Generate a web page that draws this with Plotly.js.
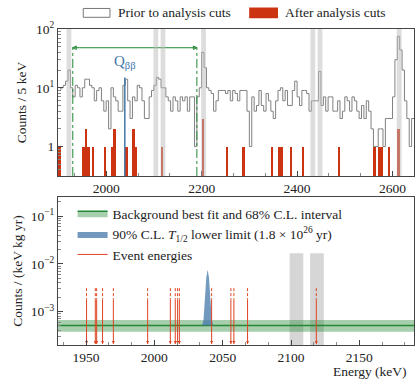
<!DOCTYPE html>
<html>
<head>
<meta charset="utf-8">
<script src="https://cdn.plot.ly/plotly-3.0.1.min.js"></script>
<style>html,body{margin:0;padding:0;background:#fff}</style>
</head>
<body>
<div id="chart" style="width:416px;height:385px"></div>
<script>
// top panel: 5 keV histogram from 1900 keV
var binStart = 1900, binWidth = 5;
var priorCounts = [
  9,10,11,13,20,10,7,11,10,7,
  10,14,14,11,10,6,9,10,6,4,
  6,2,10,7,6,4,4,11,14,6,
  3,7,6,11,10,6,3,3,7,9,
  11,15,14,10,10,7,6,4,7,6,
  4,7,6,7,4,7,7,1,7,10,
  40,22,10,9,8,4,6,9,9,9,
  8,9,6,9,8,6,9,9,9,4,
  1,7,4,5,9,5,4,8,6,4,
  3,6,9,10,6,9,5,5,9,13,
  7,5,9,9,8,4,6,6,6,19,
  5,7,4,7,7,4,4,6,3,4,
  7,6,4,7,6,4,3,5,3,6,
  4,2,1,1,2,2,1,3,3,3,
  7,30,75,44,20,6,3,1,3
];
var cutBins   = [1900,1950,1955,1960,1970,1995,2010,2015,2040,2055,2060,2115,2200,
                 2250,2285,2345,2360,2365,2385,2410,2485,2560,2570,2575,2590,2610];
var cutCounts = [1,1,2,1,1,1,1,2,1,2,1,1,3,
                 1,1,1,1,1,1,1,1,1,1,1,1,2];
var vetoBands = [[1917,1927],[2099,2109],[2114,2124],[2199,2209],[2428,2438],[2443,2453],[2609,2619]];
var qbb = 2039, qbbTop = 15;
var roi = [1930, 2190], roiArrowY = 48;
var topLegend = ['Prior to analysis cuts', 'After analysis cuts'];

// bottom panel
var fitE = [1929.5, 2190];
var bkgFit = 5.1e-4, bkgLow = 3.8e-4, bkgHigh = 6.7e-4;
var limitE = [2034,2035,2036,2037,2038,2039,2040,2041,2042,2043,2044];
var limitY = [5.1e-4,5.2e-4,6.8e-4,1.85e-3,5.1e-3,7.5e-3,5.1e-3,1.85e-3,6.8e-4,5.2e-4,5.1e-4];
var events = [1950.4,1956.8,1957.8,1962.1,1970.0,1995.1,2011.7,2015.3,2017.0,2018.3,
              2041.9,2056.0,2058.2,2068.2,2118.5];
var arrowTop = 3.1e-3, arrowMid = 1.8e-3, arrowTip = 2.1e-4;
var zoomBands = [[2099,2109],[2114,2124]];

var red = '#cc3311', green = '#228833', blue = '#4477aa', arrowRed = '#dd4422';

var edges = [], stepY = [];
for (var i = 0; i <= priorCounts.length; i++) {
  edges.push(binStart + i * binWidth);
  stepY.push(priorCounts[Math.min(i, priorCounts.length - 1)]);
}
var cutX = cutBins.map(function(b) { return b + binWidth / 2; });

var dashX = [], dashY = [], shaftX = [], shaftY = [];
events.forEach(function(e) {
  dashX.push(e, e, null); dashY.push(arrowTop, arrowMid, null);
  shaftX.push(e, e, null); shaftY.push(arrowMid, arrowTip, null);
});

var traces = [
  { x: cutX, y: cutCounts, type: 'bar', width: binWidth, showlegend: false,
    marker: {color: red, line: {width: 0}} },
  { x: edges, y: stepY, type: 'scatter', mode: 'lines', showlegend: false,
    line: {shape: 'hv', color: '#808080', width: 1} },
  { x: [qbb, qbb], y: [0.3, qbbTop], type: 'scatter', mode: 'lines', showlegend: false,
    line: {color: blue, width: 1.5} },
  { x: roi, y: [roiArrowY, roiArrowY], type: 'scatter', mode: 'lines+markers', showlegend: false,
    line: {color: green, width: 1},
    marker: {symbol: ['arrow-left-open', 'arrow-right-open'], size: 3.5, color: green,
             line: {color: green, width: 1}} },

  { x: fitE, y: [bkgLow, bkgLow], xaxis: 'x2', yaxis: 'y2', mode: 'lines',
    line: {width: 0}, showlegend: false, legend: 'legend2', hoverinfo: 'skip' },
  { x: fitE, y: [bkgFit, bkgFit], xaxis: 'x2', yaxis: 'y2', mode: 'lines',
    fill: 'tonexty', fillcolor: 'rgba(34,136,51,0.4)', line: {color: green, width: 1.5},
    name: 'Background best fit and 68% C.L. interval', legend: 'legend2' },
  { x: fitE, y: [bkgHigh, bkgHigh], xaxis: 'x2', yaxis: 'y2', mode: 'lines',
    fill: 'tonexty', fillcolor: 'rgba(34,136,51,0.4)', line: {width: 0},
    showlegend: false, legend: 'legend2' },
  { x: limitE, y: limitY, xaxis: 'x2', yaxis: 'y2', mode: 'lines', fill: 'toself',
    fillcolor: 'rgba(68,119,170,0.75)', line: {width: 0},
    name: '90% C.L. <i>T</i><sub>1/2</sub> lower limit (1.8 × 10<sup>26</sup> yr)', legend: 'legend2' },
  { x: dashX, y: dashY, xaxis: 'x2', yaxis: 'y2', mode: 'lines', showlegend: false,
    line: {color: arrowRed, width: 1, dash: '3px,2px'}, legend: 'legend2' },
  { x: shaftX, y: shaftY, xaxis: 'x2', yaxis: 'y2', mode: 'lines', name: 'Event energies',
    line: {color: arrowRed, width: 1}, legend: 'legend2' },
  { x: events, y: events.map(function() { return arrowTip; }), xaxis: 'x2', yaxis: 'y2',
    mode: 'markers', showlegend: false, legend: 'legend2',
    marker: {symbol: 'arrow-down', size: 3, color: arrowRed} }
];

var shapes = [];
vetoBands.forEach(function(b) {
  shapes.push({type: 'rect', xref: 'x', yref: 'y domain', x0: b[0], x1: b[1], y0: 0, y1: 1,
    fillcolor: 'rgba(187,187,187,0.5)', line: {width: 0}, layer: 'above'});
});
zoomBands.forEach(function(b) {
  shapes.push({type: 'rect', xref: 'x2', yref: 'y2 domain', x0: b[0], x1: b[1], y0: 0, y1: 0.62,
    fillcolor: 'rgba(187,187,187,0.6)', line: {width: 0}, layer: 'below'});
});
roi.forEach(function(r) {
  shapes.push({type: 'line', xref: 'x', yref: 'y domain', x0: r, x1: r, y0: 0, y1: 0.875,
    line: {color: green, width: 1, dash: 'dashdot'}});
});
// top legend swatches
shapes.push({type: 'rect', xref: 'paper', yref: 'paper', x0: 0.071, x1: 0.146, y0: 1.037, y1: 1.065,
  fillcolor: 'white', line: {color: '#777', width: 1}});
shapes.push({type: 'rect', xref: 'paper', yref: 'paper', x0: 0.537, x1: 0.618, y0: 1.034, y1: 1.068,
  fillcolor: red, line: {width: 0}});

var annotations = [
  { xref: 'x', yref: 'y domain', x: qbb, y: 0.776, text: 'Q<sub>ββ</sub>', showarrow: false,
    font: {color: blue, size: 15}, yanchor: 'middle' },
  { xref: 'paper', yref: 'paper', x: 0.985, y: -0.085, text: 'Energy (keV)', showarrow: false,
    xanchor: 'right', yanchor: 'middle', font: {size: 13.5} },
  { xref: 'paper', yref: 'paper', x: 0.163, y: 1.051, text: topLegend[0], showarrow: false,
    xanchor: 'left', yanchor: 'middle', font: {size: 13.5} },
  { xref: 'paper', yref: 'paper', x: 0.631, y: 1.051, text: topLegend[1], showarrow: false,
    xanchor: 'left', yanchor: 'middle', font: {size: 13.5} }
];

var axisBase = { showline: true, linecolor: '#444', linewidth: 1, mirror: true, showgrid: false,
  zeroline: false, ticks: 'inside', ticklen: 5, tickcolor: '#444', tickfont: {size: 13.5} };

function ax(extra) { return Object.assign({}, axisBase, extra); }

var layout = {
  width: 416, height: 385,
  margin: {l: 58, r: 2, t: 29, b: 40},
  paper_bgcolor: 'white', plot_bgcolor: 'white',
  font: {family: '"Liberation Serif", "Times New Roman", serif', size: 13.5, color: '#222'},
  bargap: 0,
  xaxis: ax({ domain: [0, 1], anchor: 'y', range: [1899, 2645],
    tickmode: 'array', tickvals: [2000, 2200, 2400, 2600],
    minor: {ticks: 'inside', ticklen: 3, tick0: 2000, dtick: 200 / 3, tickcolor: '#888'} }),
  yaxis: ax({ domain: [0.535, 1], anchor: 'x', type: 'log', range: [-0.5, 2],
    tickmode: 'array', tickvals: [1, 10, 100], ticktext: ['1', '10<sup>1</sup>', '10<sup>2</sup>'],
    minor: {ticks: 'inside', ticklen: 3, tickcolor: '#888', tickmode: 'array',
      tickvals: [0.4,0.5,0.6,0.7,0.8,0.9,2,3,4,5,6,7,8,9,20,30,40,50,60,70,80,90]},
    title: {text: 'Counts / 5 keV', standoff: 6, font: {size: 13.5}} }),
  xaxis2: ax({ domain: [0, 1], anchor: 'y2', range: [1929.5, 2190],
    tickmode: 'array', tickvals: [1950, 2000, 2050, 2100, 2150],
    minor: {ticks: 'inside', ticklen: 3, tick0: 1950, dtick: 50 / 3, tickcolor: '#888'} }),
  yaxis2: ax({ domain: [0, 0.468], anchor: 'x2', type: 'log', range: [-3.7, -0.6],
    tickmode: 'array', tickvals: [1e-3, 1e-2, 1e-1],
    ticktext: ['10<sup>−3</sup>', '10<sup>−2</sup>', '10<sup>−1</sup>'],
    minor: {ticks: 'inside', ticklen: 3, tickcolor: '#888', tickmode: 'array',
      tickvals: [2e-4,3e-4,4e-4,5e-4,6e-4,7e-4,8e-4,9e-4,2e-3,3e-3,4e-3,5e-3,6e-3,7e-3,8e-3,9e-3,
                 2e-2,3e-2,4e-2,5e-2,6e-2,7e-2,8e-2,9e-2,0.2]},
    title: {text: 'Counts / (keV kg yr)', standoff: 5, font: {size: 13.5}} }),
  legend2: { x: 0.041, xanchor: 'left', y: 0.465, yanchor: 'top', bgcolor: 'rgba(0,0,0,0)',
    font: {size: 13.5}, tracegroupgap: 0, traceorder: 'normal' },
  shapes: shapes,
  annotations: annotations
};

Plotly.newPlot('chart', traces, layout, {displayModeBar: false, staticPlot: true});
</script>
</body>
</html>
